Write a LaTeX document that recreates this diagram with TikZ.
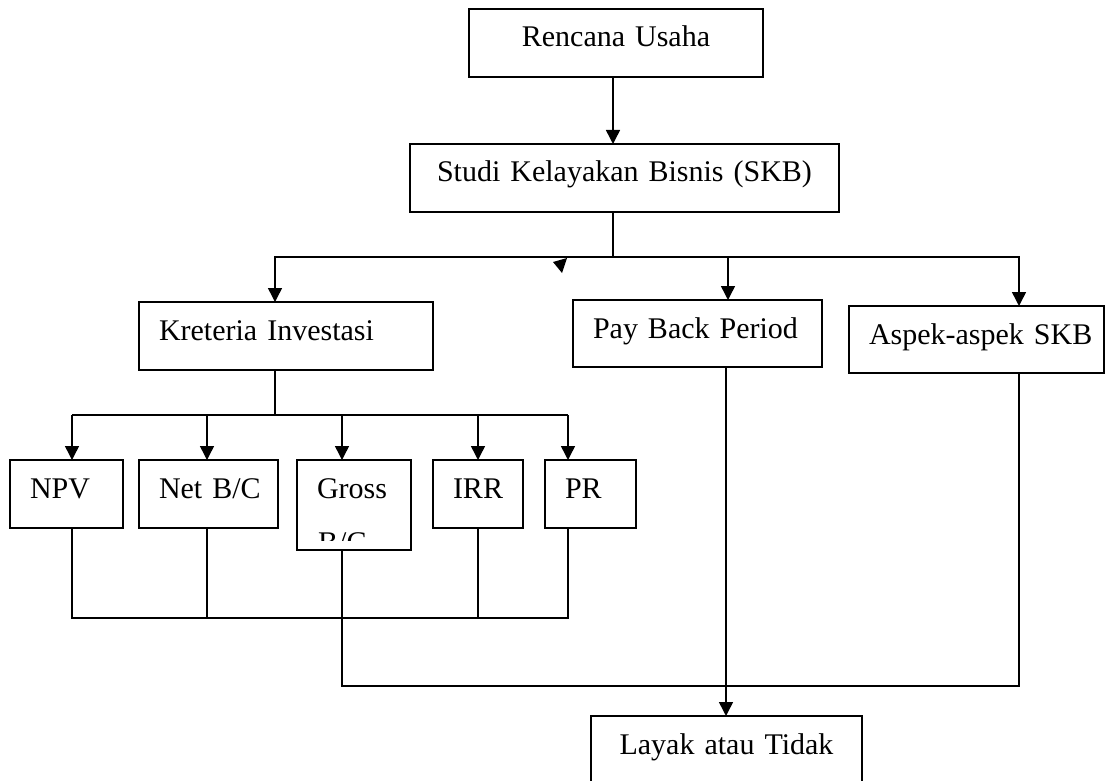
\documentclass[tikz,border=0pt]{standalone}
\usepackage{fontspec}
\newfontfamily\tnr[WordSpace=0.7]{Liberation Serif}
\usetikzlibrary{arrows.meta,calc}
\newcommand\boxfont{\tnr\fontsize{30}{54}\selectfont}
\begin{document}
\begin{tikzpicture}[x=1pt,y=-1pt,
  box/.style={draw, line width=1.8pt, anchor=north west, inner xsep=20pt, inner ysep=0pt, outer sep=0pt, text height=38pt, font=\boxfont, align=left},
  conn/.style={line width=1.5pt},
  arr/.style={conn, -{Triangle[length=14pt,width=14pt]}}]
\useasboundingbox (0,0) rectangle (1106,781);
\clip (0,0) rectangle (1106,781);

% boxes
\node[box, text width=254pt, text depth=30pt, align=center] (ru) at (469,9) {Rencana Usaha};
\node[box, text width=389pt, text depth=30pt, align=center] (skb) at (410,144) {Studi Kelayakan Bisnis (SKB)};
\node[box, text width=254pt, text depth=30pt] (ki) at (139,302) {Kreteria Investasi};
\node[box, text width=209pt, text depth=29pt] (pbp) at (573,300) {\mbox{Pay Back Period}};
\node[box, text width=215pt, text depth=29pt] (asp) at (849,306) {\mbox{Aspek-aspek SKB}};
\node[box, text width=73pt, text depth=30pt] (npv) at (10,460) {NPV};
\node[box, text width=99pt, text depth=30pt] (nbc) at (139,460) {\mbox{Net B/C}};
\node[box, text width=74pt, text depth=52pt] (gbc) at (297,460) {Gross};
\node[box, text width=50pt, text depth=30pt] (irr) at (433,460) {IRR};
\node[box, text width=51pt, text depth=30pt] (pr) at (545,460) {PR};
\node[box, text width=231pt, text depth=62pt, align=center] (lt) at (591,716) {Layak atau Tidak};

% clipped second line of Gross B/C
\begin{scope}
  \clip (299,462) rectangle (409,540);
  \node[font=\boxfont, anchor=base west, inner sep=0pt] (gbc2) at (318,552) {B/C};
\end{scope}

% junction coordinates
\coordinate (j1) at (613,257);
\coordinate (a1) at (275,257);
\coordinate (a3) at (728,257);
\coordinate (a4) at (1019,257);
\coordinate (k1) at (275,415);
\coordinate (b1) at (72,415);
\coordinate (b2) at (207,415);
\coordinate (b3) at (342,415);
\coordinate (b4) at (478,415);
\coordinate (b5) at (568,415);
\coordinate (c1) at (72,618);
\coordinate (c2) at (207,618);
\coordinate (c4) at (478,618);
\coordinate (c5) at (568,618);
\coordinate (d1) at (342,686);
\coordinate (d2) at (1019,686);
\coordinate (p1) at (726,686);

% top
\draw[arr] (j1 |- ru.south) -- (j1 |- skb.north);
\draw[conn] (j1 |- skb.south) -- (j1);
\draw[arr] (j1) -- (a1) -- (a1 |- ki.north);
\draw[arr] (j1) -- (a4) -- (a4 |- asp.north);
\draw[arr] (a3) -- (a3 |- pbp.north);
% stray arrowhead
\fill (553,262) -- (567,258) -- (562,273) -- cycle;

% criteria bus
\draw[conn] (k1 |- ki.south) -- (k1);
\draw[conn] (b1) -- (b5);
\draw[arr] (b1) -- (b1 |- npv.north);
\draw[arr] (b2) -- (b2 |- nbc.north);
\draw[arr] (b3) -- (b3 |- gbc.north);
\draw[arr] (b4) -- (b4 |- irr.north);
\draw[arr] (b5) -- (b5 |- pr.north);

% lower collector
\draw[conn] (c1 |- npv.south) -- (c1) -- (c5) -- (c5 |- pr.south);
\draw[conn] (c2 |- nbc.south) -- (c2);
\draw[conn] (c4 |- irr.south) -- (c4);
\draw[conn] (d1 |- gbc.south) -- (d1) -- (d2) -- (d2 |- asp.south);
\draw[arr] (p1 |- pbp.south) -- (p1 |- lt.north);
\end{tikzpicture}
\end{document}
